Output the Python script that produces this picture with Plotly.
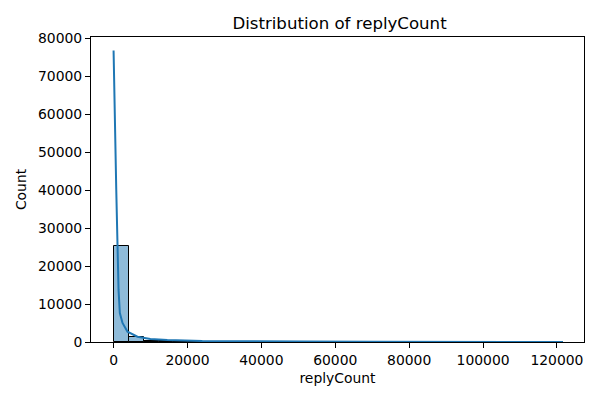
import numpy as np
import plotly.graph_objects as go

# histogram counts (30 bins from 0 to max replyCount)
bin_start = 0
bin_end = 121600
counts = [25200, 1250, 330, 150, 90, 60, 40, 30, 22, 16,
          12, 10, 8, 6, 5, 4, 3, 3, 2, 2,
          2, 1, 1, 1, 1, 1, 1, 1, 0, 1]

# kde curve (scaled to counts)
kde_x = [0, 270, 727, 1077, 1346, 1696, 2420, 3770, 6460, 9960,
         14540, 24000, 35000, 50900, 70000, 90000, 110000, 121600]
kde_y = [76800, 58600, 40100, 25150, 13720, 7650, 5010, 2720, 1400, 790,
         530, 260, 160, 100, 60, 40, 25, 20]

edges = np.linspace(bin_start, bin_end, len(counts) + 1)
centers = (edges[:-1] + edges[1:]) / 2
width = edges[1] - edges[0]

blue = "#1f77b4"
font = "DejaVu Sans"

fig = go.Figure()

fig.add_trace(go.Bar(
    x=centers,
    y=counts,
    width=width,
    marker=dict(color="rgba(31,119,180,0.5)", line=dict(color="black", width=1)),
    showlegend=False,
))

fig.add_trace(go.Scatter(
    x=kde_x,
    y=kde_y,
    mode="lines",
    line=dict(color=blue, width=2),
    showlegend=False,
))

# page body has an 8px margin, so the figure is a bit smaller than the window
fig.update_layout(
    width=592,
    height=392,
    plot_bgcolor="white",
    paper_bgcolor="white",
    margin=dict(l=80, r=16, t=29, b=58),
    font=dict(family=font, size=13.9, color="black"),
    bargap=0,
    title=dict(text="Distribution of replyCount", x=0.56, xanchor="center",
               y=0.962, yanchor="middle", font=dict(size=16.6, color="black")),
)

fig.update_xaxes(
    range=[-6110, 127320],
    tickvals=[0, 20000, 40000, 60000, 80000, 100000, 120000],
    ticktext=["0", "20000", "40000", "60000", "80000", "100000", "120000"],
    showline=True, linecolor="black", linewidth=1, mirror=True,
    ticks="outside", ticklen=5, tickcolor="black",
    showgrid=False, zeroline=False,
    title=dict(text="replyCount", font=dict(size=13.9), standoff=6),
)

fig.update_yaxes(
    range=[0, 80360],
    tickvals=[0, 10000, 20000, 30000, 40000, 50000, 60000, 70000, 80000],
    ticktext=["0", "10000", "20000", "30000", "40000", "50000", "60000", "70000", "80000"],
    showline=True, linecolor="black", linewidth=1, mirror=True,
    ticks="outside", ticklen=5, tickcolor="black",
    showgrid=False, zeroline=False,
    title=dict(text="Count", font=dict(size=13.9), standoff=8),
)

fig.write_html("out.html")
